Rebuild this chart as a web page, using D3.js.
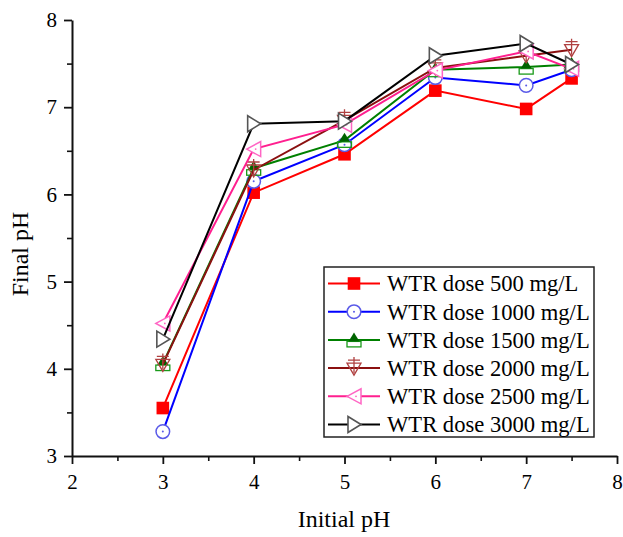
<!DOCTYPE html>
<html>
<head>
<meta charset="utf-8">
<script src="https://cdn.jsdelivr.net/npm/d3@7"></script>
<style>
  body { margin: 0; background: #fff; }
  text { font-family: "Liberation Serif", "Times New Roman", serif; fill: #000; }
</style>
</head>
<body>
<div id="chart"></div>
<script>
// initial pH values (x) and final pH for each WTR dose
const initialPH = [3, 4, 5, 6, 7, 7.5];
const doseLabels = ["WTR dose 500 mg/L", "WTR dose 1000 mg/L", "WTR dose 1500 mg/L",
                    "WTR dose 2000 mg/L", "WTR dose 2500 mg/L", "WTR dose 3000 mg/L"];
const dose500  = [3.55, 6.02, 6.46, 7.19, 6.98, 7.33];
const dose1000 = [3.28, 6.15, 6.57, 7.34, 7.25, 7.43];
const dose1500 = [4.06, 6.30, 6.62, 7.43, 7.46, 7.49];
const dose2000 = [4.05, 6.28, 6.85, 7.45, 7.59, 7.66];
const dose2500 = [4.52, 6.52, 6.80, 7.42, 7.64, 7.44];
const dose3000 = [4.34, 6.81, 6.84, 7.59, 7.73, 7.49];
const xTicks = [2, 3, 4, 5, 6, 7, 8];
const yTicks = [3, 4, 5, 6, 7, 8];

const series = [dose500, dose1000, dose1500, dose2000, dose2500, dose3000];
const lineColors = ["#ff0000", "#0000ff", "#008000", "#8b1010", "#ff1f8f", "#000000"];
const markerTypes = ["square", "circle", "triUp", "triDownCross", "triLeft", "triRight"];

const width = 623, height = 537;
const svg = d3.select("#chart").append("svg")
    .attr("width", width)
    .attr("height", height);

const x = d3.scaleLinear().domain([2, 8]).range([72, 617]);
const y = d3.scaleLinear().domain([3, 8]).range([456, 20]);

// minor ticks first (half units)
svg.append("g")
    .attr("transform", "translate(0,456)")
    .call(d3.axisBottom(x).tickValues(d3.range(2.5, 8, 1)).tickSize(5).tickFormat(""))
    .call(g => g.select(".domain").remove())
    .selectAll("line").attr("stroke", "#111").attr("stroke-width", 1.6);
svg.append("g")
    .attr("transform", "translate(72,0)")
    .call(d3.axisLeft(y).tickValues(d3.range(3.5, 8, 1)).tickSize(5).tickFormat(""))
    .call(g => g.select(".domain").remove())
    .selectAll("line").attr("stroke", "#111").attr("stroke-width", 1.6);

// major axes
const xAxis = svg.append("g")
    .attr("transform", "translate(0,456)")
    .call(d3.axisBottom(x).tickValues(xTicks).tickSize(8).tickSizeOuter(0).tickPadding(10).tickFormat(d3.format("d")));
const yAxis = svg.append("g")
    .attr("transform", "translate(72,0)")
    .call(d3.axisLeft(y).tickValues(yTicks).tickSize(8).tickSizeOuter(0).tickPadding(7).tickFormat(d3.format("d")));

[xAxis, yAxis].forEach(g => {
  g.select(".domain").attr("stroke", "#111").attr("stroke-width", 2);
  g.selectAll(".tick line").attr("stroke", "#111").attr("stroke-width", 1.8);
  g.selectAll(".tick text")
    .style("font-family", "'Liberation Serif', serif")
    .style("font-size", "21px")
    .attr("fill", "#000");
});

// axis titles
svg.append("text")
    .attr("x", 344)
    .attr("y", 527)
    .attr("text-anchor", "middle")
    .style("font-size", "24px")
    .text("Initial pH");
svg.append("text")
    .attr("transform", "translate(28,254) rotate(-90)")
    .attr("text-anchor", "middle")
    .style("font-size", "24px")
    .text("Final pH");

// draw a marker of given type at origin of group g
function drawMarker(g, type, color) {
  if (type === "square") {
    g.append("rect").attr("x", -6.3).attr("y", -6.3).attr("width", 12.6).attr("height", 12.6)
      .attr("fill", color);
  } else if (type === "circle") {
    g.append("circle").attr("r", 6.8).attr("fill", "#fff").attr("stroke", "#5a5ae8").attr("stroke-width", 1.5);
    g.append("circle").attr("r", 1).attr("fill", "#5a5ae8");
  } else if (type === "triUp") {
    g.append("rect").attr("x", -7).attr("y", 1.5).attr("width", 14).attr("height", 5.5)
      .attr("fill", "none").attr("stroke", "#1a9a1a").attr("stroke-width", 1.3);
    g.append("path").attr("d", "M0,-7.5L5.5,1.5L-5.5,1.5Z").attr("fill", "#006400");
  } else if (type === "triDownCross") {
    g.append("path").attr("d", "M-7,-5L7,-5L0,7Z").attr("fill", "none")
      .attr("stroke", "#b04040").attr("stroke-width", 1.3);
    g.append("path").attr("d", "M0,-11V5M-6,-8H6").attr("stroke", "#b04040").attr("stroke-width", 1.3);
  } else if (type === "triLeft") {
    g.append("path").attr("d", "M-7,0L7,-7.5L7,7.5Z").attr("fill", "#fff")
      .attr("stroke", "#ff66c4").attr("stroke-width", 1.5);
    g.append("circle").attr("cx", 2).attr("r", 0.9).attr("fill", "#ff66c4");
  } else if (type === "triRight") {
    g.append("path").attr("d", "M7,0L-6,-8L-6,8Z").attr("fill", "#fff")
      .attr("stroke", "#555").attr("stroke-width", 1.6);
  }
}

const line = d3.line()
    .x((d, i) => x(initialPH[i]))
    .y(d => y(d));

series.forEach((vals, s) => {
  const g = svg.append("g");
  g.append("path")
      .datum(vals)
      .attr("fill", "none")
      .attr("stroke", lineColors[s])
      .attr("stroke-width", 2)
      .attr("d", line);
  vals.forEach((v, i) => {
    const m = g.append("g").attr("transform", `translate(${x(initialPH[i])},${y(v)})`);
    drawMarker(m, markerTypes[s], lineColors[s]);
  });
});

// legend
const legend = svg.append("g");
legend.append("rect")
    .attr("x", 324).attr("y", 267)
    .attr("width", 270).attr("height", 170)
    .attr("fill", "#fff")
    .attr("stroke", "#222")
    .attr("stroke-width", 1.5);

doseLabels.forEach((label, i) => {
  const cy = 283.5 + i * 28.2;
  legend.append("line")
      .attr("x1", 328).attr("x2", 380)
      .attr("y1", cy).attr("y2", cy)
      .attr("stroke", lineColors[i])
      .attr("stroke-width", 2);
  const m = legend.append("g").attr("transform", `translate(354,${cy})`);
  drawMarker(m, markerTypes[i], lineColors[i]);
  legend.append("text")
      .attr("x", 387)
      .attr("y", cy)
      .attr("dy", "0.35em")
      .style("font-size", "22.6px")
      .text(label);
});
</script>
</body>
</html>
